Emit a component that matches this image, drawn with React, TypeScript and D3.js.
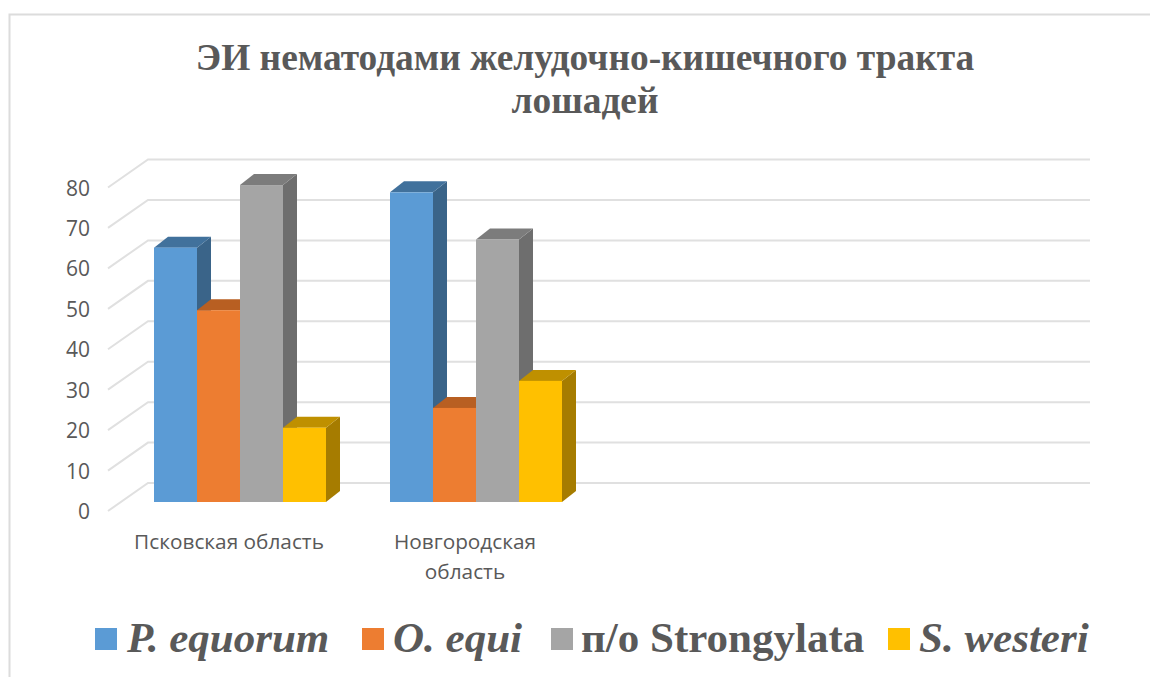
import React, { useEffect, useRef } from "react";
import * as d3 from "d3";

const categories = ["Псковская область", "Новгородская область", "", " "];
const seriesNames = ["P. equorum", "O. equi", "п/о Strongylata", "S. westeri"];
const seriesItalic = [true, true, false, true];
const pskov = [63, 47.5, 78.5, 18.4];
const novgorod = [76.7, 23.3, 65, 30];
const values = [pskov, novgorod];
const ticks = [0, 10, 20, 30, 40, 50, 60, 70, 80];
const front = ["#5B9BD5", "#ED7D31", "#A5A5A5", "#FFC000"];
const top = ["#41719C", "#B85F22", "#7C7C7C", "#BF9000"];
const side = ["#3A6489", "#A5561F", "#6E6E6E", "#A67C00"];
const legendX = [95, 362, 551, 888];
const legendTextX = [127, 393, 581, 919];

const App = () => {
  const ref = useRef<SVGSVGElement>(null);

  useEffect(() => {
    const svg = d3.select(ref.current);
    svg.selectAll("*").remove();

    const dx = 14;
    const dy = 11;
    // gridlines run back from the front edge to the wall
    const floorY = 511;
    const wallDx = 38;
    const wallDy = 28;
    const wallRight = 1090;

    const y = d3.scaleLinear().domain([0, 80]).range([floorY, 187.5]);
    const barY = d3.scaleLinear().domain([0, 80]).range([502, 179]);
    const x0 = d3.scaleBand().domain(categories).range([122, 1066]);
    const x1 = d3.scaleBand().domain(seriesNames).range([32, 204]);

    // chart frame
    svg.append("path")
      .attr("d", "M9.5,677V14.5H1150")
      .attr("fill", "none")
      .attr("stroke", "#dcdcdc")
      .attr("stroke-width", 2);

    // title
    const title = svg.append("g")
      .attr("font-family", "Liberation Serif")
      .attr("font-weight", "bold")
      .attr("font-size", 37.4)
      .attr("fill", "#595959")
      .attr("text-anchor", "middle");
    title.append("text").attr("x", 585).attr("y", 70).text("ЭИ нематодами желудочно-кишечного тракта");
    title.append("text").attr("x", 585).attr("y", 113).text("лошадей");

    // grid
    const grid = svg.append("g").attr("fill", "none").attr("stroke", "#e0e0e0").attr("stroke-width", 2);
    ticks.forEach((t) => {
      const yy = y(t);
      grid.append("path").attr(
        "d",
        `M${108},${yy}L${108 + wallDx + 2},${yy - wallDy}H${wallRight}`
      );
    });

    // y tick labels
    svg.append("g")
      .selectAll("text")
      .data(ticks)
      .join("text")
      .attr("x", 90)
      .attr("y", (d) => y(d) + 8)
      .attr("text-anchor", "end")
      .attr("font-family", "Open Sans")
      .attr("font-size", 21)
      .attr("fill", "#595959")
      .text((d) => d);

    // bars, back to front by group
    values.forEach((vals, c) => {
      const g = svg.append("g");
      const order = d3.range(vals.length);
      order.forEach((i) => {
        const bx = (x0(categories[c]) as number) + (x1(seriesNames[i]) as number);
        const w = x1.bandwidth();
        const by = barY(vals[i]);
        const base = barY(0);
        g.append("path")
          .attr("d", `M${bx + w},${by}l${dx},${-dy}V${base - dy}l${-dx},${dy}Z`)
          .attr("fill", side[i]);
        g.append("path")
          .attr("d", `M${bx},${by}l${dx},${-dy}h${w}l${-dx},${dy}Z`)
          .attr("fill", top[i]);
        g.append("rect")
          .attr("x", bx)
          .attr("y", by)
          .attr("width", w)
          .attr("height", base - by)
          .attr("fill", front[i]);
      });
    });

    // category labels
    const catStyle = (s: any) =>
      s.attr("font-family", "Open Sans")
        .attr("font-size", 20.8)
        .attr("fill", "#595959")
        .attr("text-anchor", "middle");
    catStyle(svg.append("text")).attr("x", 229).attr("y", 549).text(categories[0]);
    const words = categories[1].split(" ");
    catStyle(svg.append("text")).attr("x", 465).attr("y", 549).text(words[0]);
    catStyle(svg.append("text")).attr("x", 465).attr("y", 579).text(words[1]);

    // legend
    seriesNames.forEach((name, i) => {
      svg.append("rect")
        .attr("x", legendX[i])
        .attr("y", 628)
        .attr("width", 22)
        .attr("height", 22)
        .attr("fill", front[i]);
      svg.append("text")
        .attr("x", legendTextX[i])
        .attr("y", 652)
        .attr("font-family", "Liberation Serif")
        .attr("font-weight", "bold")
        .attr("font-style", seriesItalic[i] ? "italic" : "normal")
        .attr("font-size", 43)
        .attr("fill", "#595959")
        .text(name);
    });
  }, []);

  return (
    <svg
      ref={ref}
      width={1150}
      height={677}
      style={{ position: "fixed", left: 0, top: 0, background: "#fff" }}
    />
  );
};

export default App;
